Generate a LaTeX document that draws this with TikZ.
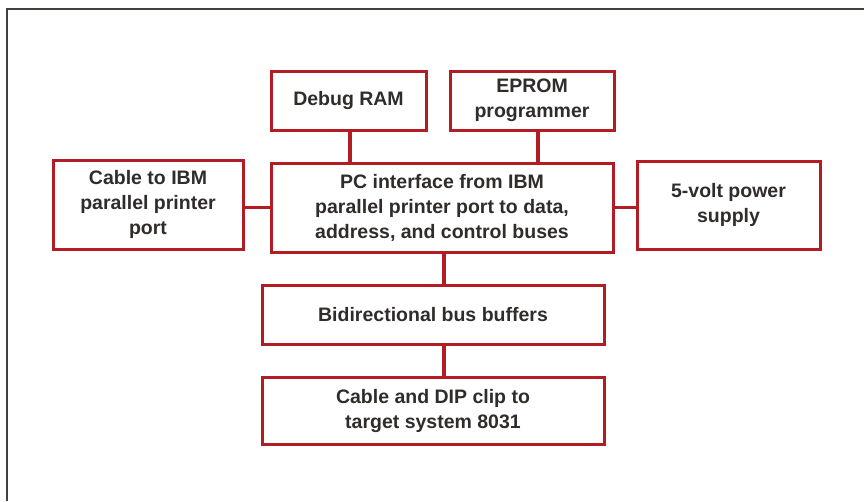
\documentclass[tikz,border=0pt]{standalone}
\usepackage{fontspec}
\setmainfont{Liberation Sans}
\usetikzlibrary{calc}
\definecolor{byred}{RGB}{180,28,36}
\definecolor{byink}{RGB}{48,44,42}
\definecolor{byframe}{RGB}{70,64,60}
\tikzset{
  bbox/.style={draw=byred,line width=3pt,fill=white,text=byink,align=center,
    inner sep=0pt,font=\bfseries\fontsize{19.5}{25}\selectfont},
  bwire/.style={draw=byred,line width=3.2pt},
  bframe/.style={draw=byframe,line width=2.2pt},
}
\begin{document}
\begin{tikzpicture}[x=1pt,y=-1pt]
\useasboundingbox (0,0) rectangle (864,501);
% ---- the page frame, open to the right and below
\draw[bframe] (7,501) -- (7,9) -- (864,9);
% ---- top row
\node[bbox,minimum width=155pt,minimum height=59pt] (ram) at (348.5,100.5) {Debug RAM};
\node[bbox,minimum width=164pt,minimum height=59pt] (eprom) at (532,100.5) {EPROM\\programmer};
% ---- middle row
\node[bbox,minimum width=190pt,minimum height=89pt] (cable) at (148,204.5) {Cable to IBM\\parallel printer\\port};
\node[bbox,minimum width=342pt,minimum height=89pt] (pc) at (442,207.5) {PC interface from IBM\\parallel printer port to data,\\address, and control buses};
\node[bbox,minimum width=183pt,minimum height=88pt] (power) at (728.5,205) {5-volt power\\supply};
% ---- bottom column
\node[bbox,minimum width=342pt,minimum height=59pt] (bus) at (433,314.5) {Bidirectional bus buffers};
\node[bbox,minimum width=342pt,minimum height=67pt] (dip) at (433,410.5) {Cable and DIP clip to\\target system 8031};
% ---- wires (the trunk sits a little right of the centre line)
\coordinate (trunk) at ([xshift=2pt]pc.south);
\draw[bwire] ([xshift=1.5pt]ram.south) -- ([xshift=1.5pt]ram.south |- pc.north);
\draw[bwire] ([xshift=6pt]eprom.south) -- ([xshift=6pt]eprom.south |- pc.north);
\draw[bwire] (pc.west) -- (pc.west -| cable.east);
\draw[bwire] (pc.east) -- (pc.east -| power.west);
\draw[bwire] (trunk) -- (trunk |- bus.north);
\draw[bwire] (trunk |- bus.south) -- (trunk |- dip.north);
\end{tikzpicture}
\end{document}
